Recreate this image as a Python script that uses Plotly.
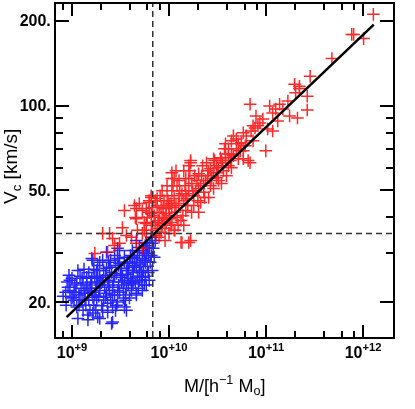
import plotly.graph_objects as go

# halo mass in units of 1e9 h^-1 Msun, circular velocity in km/s
blue_m = [
    1.15, 1.00, 0.89, 0.95, 0.86, 1.02, 1.21, 1.12, 1.30, 1.46, 1.15, 1.46, 1.84, 2.62, 2.56,
    1.80, 1.64, 1.84, 2.27, 2.75, 3.47, 3.09, 4.19, 4.94, 5.31, 5.97, 5.83, 6.56, 4.19, 4.61,
    3.91, 3.47, 2.95, 5.31, 5.83, 1.93, 2.44, 2.88, 1.42, 1.30, 1.53, 1.93, 2.27, 2.62, 3.31,
    3.64, 4.19, 4.94, 4.61, 3.73, 3.09, 2.44, 2.07, 1.80, 1.64, 1.36, 2.33, 2.62, 2.07, 4.61,
    4.94, 4.19, 5.83, 4.61, 5.31, 4.25, 5.56, 4.61, 7.03, 6.25,
    0.91, 0.95, 1.07, 1.10, 1.18, 1.24, 1.27, 1.33, 1.39, 1.49, 1.56, 1.60, 1.68, 1.72, 1.76,
    1.89, 1.98, 2.02, 2.12, 2.17, 2.22, 2.33, 2.38, 2.44, 2.50, 2.56, 2.68, 2.75, 2.81, 2.88,
    3.02, 3.09, 3.16, 3.24, 3.39, 3.47, 3.56, 3.73, 3.82, 3.91, 4.00, 4.10, 4.29, 4.40, 4.50,
    4.72, 4.83, 5.06, 5.18, 5.43, 5.56, 5.69, 5.97, 6.11, 6.40, 6.71, 6.87, 6.25, 2.95, 2.22,
    1.84, 1.46, 1.05, 1.18, 1.76, 1.93, 1.53, 1.33, 1.68, 3.56, 2.81, 0.98, 0.81, 0.87,
    7.20, 6.71, 5.69,
    1.12, 1.21, 1.36, 1.42, 1.49, 1.60, 1.72, 1.80, 1.93, 2.07, 2.12, 2.27, 2.38, 2.50, 2.62,
    2.75, 2.95, 3.02, 3.24, 3.39, 3.47, 3.64, 3.82, 4.00, 4.10, 4.40, 4.72, 4.94, 5.18, 5.43,
    5.69, 6.11, 6.56, 3.64, 2.33, 1.64, 1.27, 1.05, 0.93, 1.60, 1.93, 2.95,
]
blue_v = [
    25.9, 24.3, 23.6, 22.0, 21.7, 20.8, 20.3, 19.2, 18.7, 18.0, 17.5, 17.3, 17.7, 17.0, 16.8,
    20.3, 28.2, 27.0, 30.1, 29.3, 28.9, 30.5, 30.5, 30.1, 28.6, 31.3, 32.6, 34.0, 23.6, 21.2,
    20.7, 19.2, 20.0, 22.0, 23.0, 24.5, 24.5, 25.3, 24.5, 23.4, 22.4, 22.0, 21.5, 22.6, 24.5,
    25.9, 26.6, 25.9, 27.7, 27.7, 27.5, 26.6, 28.2, 23.4, 20.8, 20.3, 19.8, 19.2, 18.7, 33.1,
    31.3, 28.9, 29.8, 26.6, 24.5, 23.2, 23.0, 21.5, 28.9, 31.3,
    22.6, 23.9, 23.0, 21.7, 21.2, 22.4, 24.3, 21.5, 19.5, 20.3, 23.6, 21.7, 19.5, 24.7, 22.4,
    21.0, 23.6, 19.4, 25.9, 22.6, 20.8, 23.9, 27.7, 22.0, 20.3, 25.5, 23.6, 21.2, 27.0, 19.5,
    23.0, 21.7, 24.9, 26.4, 22.4, 23.9, 21.2, 25.1, 23.0, 27.5, 24.3, 22.0, 25.5, 28.6, 23.6,
    24.7, 22.4, 27.3, 23.9, 25.9, 28.2, 24.7, 26.8, 29.3, 27.7, 25.9, 31.1, 23.9, 28.6, 24.9,
    24.3, 22.0, 20.3, 19.5, 18.7, 17.5, 18.7, 26.2, 26.2, 20.3, 18.7, 20.7, 21.0, 19.5,
    33.1, 32.4, 31.8,
    23.4, 24.7, 22.0, 23.0, 25.5, 24.3, 21.2, 25.9, 23.0, 23.9, 20.3, 26.4, 23.0, 28.2, 21.2,
    24.9, 22.0, 27.0, 23.6, 20.7, 27.7, 22.4, 25.9, 29.3, 23.4, 27.0, 29.3, 23.9, 25.5, 30.5,
    27.7, 25.5, 29.3, 18.7, 18.4, 18.3, 20.3, 21.7, 24.9, 28.6, 27.7, 31.1,
]

red_m = [
    1.72, 2.07, 2.44, 2.62, 3.31, 3.64, 2.75, 3.09, 4.72, 5.83, 4.61, 5.31, 6.56, 5.97, 4.61,
    5.31, 3.47, 4.94, 13.3, 16.0, 8.29, 9.32, 10.5, 2.33, 4.40, 4.50, 6.56, 6.71, 5.31, 4.10,
    6.25, 5.83, 10.7, 11.3, 16.0, 16.7, 14.9, 20.2, 26.8, 28.8, 33.9, 38.2, 34.7, 28.8, 25.6,
    21.2, 20.2, 17.1, 18.0, 14.9, 13.6, 16.0, 18.9, 12.6, 10.7, 9.32, 10.0, 8.49, 7.91, 9.32,
    10.7, 12.1, 7.55, 6.71, 7.37, 7.91, 10.0, 11.3, 13.6, 16.7, 5.83, 5.56, 24.4, 32.4, 42.9,
    41.0, 44.0, 30.9, 22.8, 285, 197, 221, 202, 266, 68.5, 109, 138, 117, 126, 175,
    211, 266, 132, 86.5, 82.5, 77.0, 117, 70.1, 58.3, 46.1, 44.0, 55.6, 51.8, 61.1, 38.2,
    41.0, 49.5, 58.3, 99.5, 38.2, 34.7, 51.8, 65.4, 44.0, 1278, 765, 801, 1013, 478, 221,
    16.7, 11.8, 10.7, 68.5, 58.3, 41.0, 6.25, 6.56, 4.61, 5.56,
    7.03, 7.55, 7.91, 8.49, 8.89, 8.89, 9.55, 10.0, 10.5, 11.3, 11.5, 12.1, 12.7, 13.3, 14.2,
    14.6, 15.3, 16.0, 17.2, 18.0, 19.4, 20.2, 21.7, 22.8, 23.9, 25.6, 27.5, 28.8, 30.9, 32.4,
    36.4, 39.1, 8.29, 9.11, 7.20, 11.5, 14.2, 6.25, 7.55, 8.49, 9.55, 10.7, 12.7, 14.2,
    6.56, 7.20, 7.72, 8.10, 8.69, 9.10, 9.77, 10.2, 11.0, 11.8, 12.4, 12.9, 13.9, 14.9, 15.6,
    16.4, 17.6, 18.4, 19.8, 21.2, 22.2, 23.3, 25.0, 26.8, 29.5, 31.6, 35.6, 37.3, 46.0, 49.5,
    54.3, 62.5, 73.5, 78.8, 92.8, 104, 149, 168, 73.5,
]
red_v = [
    29.8, 35.1, 35.1, 33.7, 36.8, 34.5, 31.8, 32.4, 36.0, 35.1, 32.4, 31.1, 37.5, 40.0, 39.6,
    42.3, 42.3, 44.8, 32.6, 32.6, 43.4, 41.3, 44.8, 30.1, 44.1, 40.0, 47.1, 43.4, 35.1, 34.0,
    45.2, 43.0, 57.7, 55.0, 61.1, 62.6, 55.0, 57.2, 59.6, 64.7, 65.2, 67.3, 52.8, 50.7, 47.1,
    45.2, 41.7, 41.7, 44.1, 42.3, 48.6, 49.8, 49.8, 44.8, 43.4, 43.0, 40.6, 40.0, 38.4, 38.1,
    38.4, 40.0, 36.6, 36.0, 34.5, 34.0, 35.1, 36.0, 32.6, 33.1, 38.1, 36.0, 62.6, 60.1, 63.7,
    61.1, 67.3, 55.4, 52.8, 127, 119, 117, 111, 108, 101, 99.6, 101, 94.1, 97.2, 91.8,
    90.3, 96.4, 88.1, 86.7, 84.7, 83.2, 81.2, 81.2, 80.0, 78.0, 74.9, 73.7, 73.1, 71.9, 73.1,
    70.2, 70.2, 69.0, 69.0, 65.2, 63.7, 64.7, 63.7, 60.1, 211, 179, 179, 173, 147, 115,
    63.7, 58.6, 55.0, 62.6, 64.7, 67.3, 45.9, 47.8, 43.0, 38.4,
    40.6, 44.1, 41.7, 37.5, 45.9, 39.6, 47.8, 44.1, 37.5, 46.7, 41.7, 51.9, 47.8, 39.0, 45.9,
    51.9, 46.7, 55.0, 52.8, 47.8, 54.1, 50.7, 56.3, 49.2, 54.1, 58.6, 55.0, 57.7, 61.1, 54.1,
    58.6, 56.3, 35.4, 33.1, 38.4, 36.0, 37.5, 41.7, 46.7, 49.8, 51.9, 49.8, 54.1, 58.6,
    41.3, 45.9, 39.0, 47.8, 43.0, 36.6, 45.9, 39.6, 51.9, 44.1, 37.5, 49.8, 40.6, 48.6, 44.1,
    58.6, 49.8, 56.3, 45.9, 51.9, 61.1, 47.1, 56.3, 51.9, 63.7, 57.7, 62.6, 70.2, 66.3, 76.1,
    69.0, 78.0, 74.9, 91.8, 89.6, 82.6, 97.2, 103.8, 84.7,
]

# power-law fit end points
fit_m = [0.88, 1290]
fit_v = [17.7, 194]

m_cut = 6.8
v_cut = 35.1

unit = 1e9

x_ticks = [1e9, 1e10, 1e11, 1e12]
x_labels = ["10<sup>+9</sup>", "10<sup>+10</sup>", "10<sup>+11</sup>", "10<sup>+12</sup>"]
x_minor = [8e8, 2e9, 4e9, 6e9, 8e9, 2e10, 4e10, 6e10, 8e10, 2e11, 4e11, 6e11, 8e11, 2e12]
y_ticks = [20, 50, 100, 200]
y_labels = ["20.", "50.", "100.", "200."]
y_minor = [30, 40, 60, 70, 80, 90]


def crosses(m, v, color):
    return go.Scatter(
        x=[a * unit for a in m],
        y=v,
        mode="markers",
        marker=dict(symbol="cross-thin", size=9, line=dict(width=1.5, color=color)),
        opacity=0.85,
        hoverinfo="skip",
    )


fig = go.Figure()
fig.add_trace(crosses(blue_m, blue_v, "#0000ff"))
fig.add_trace(crosses(red_m, red_v, "#ff0000"))
fig.add_trace(
    go.Scatter(
        x=[a * unit for a in fit_m],
        y=fit_v,
        mode="lines",
        line=dict(color="black", width=2.5),
        hoverinfo="skip",
    )
)

dash_line = dict(color="#333333", width=1.5, dash="6px,4px")
fig.add_vline(x=m_cut * unit, line=dash_line)
fig.add_hline(y=v_cut, line=dash_line)

axis_common = dict(
    type="log",
    showgrid=False,
    zeroline=False,
    showline=True,
    linewidth=2,
    linecolor="black",
    mirror="allticks",
    ticks="inside",
    tickwidth=1.5,
    tickcolor="black",
    tickfont=dict(family="Liberation Sans", size=16, color="black", weight="bold"),
)

fig.update_xaxes(
    **axis_common,
    range=[8.835, 12.309],
    tickvals=x_ticks,
    ticktext=x_labels,
    ticklen=12,
    minor=dict(tickvals=x_minor, ticks="inside", ticklen=6, tickwidth=1.5, tickcolor="black"),
)
fig.update_yaxes(
    **axis_common,
    range=[1.177, 2.361],
    tickvals=y_ticks,
    ticktext=y_labels,
    ticklen=13,
    minor=dict(tickvals=y_minor, ticks="inside", ticklen=7, tickwidth=1.5, tickcolor="black"),
)

fig.update_layout(
    width=415,
    height=409,
    margin=dict(l=56, r=22, t=2, b=72),
    plot_bgcolor="white",
    paper_bgcolor="white",
    showlegend=False,
    annotations=[
        dict(
            text="M/[h<sup>\u22121</sup> M<sub>o</sub>]",
            xref="paper", yref="paper", x=0.5, y=-0.146,
            xanchor="center", yanchor="middle", showarrow=False,
            font=dict(family="Liberation Sans", size=18, color="black"),
        ),
        dict(
            text="V<sub>c</sub> [km/s]",
            xref="paper", yref="paper", x=-0.131, y=0.513,
            xanchor="center", yanchor="middle", showarrow=False, textangle=-90,
            font=dict(family="Liberation Sans", size=19, color="black"),
        ),
    ],
)

fig.write_html(
    "out.html",
    config={"displayModeBar": False},
    post_script="document.body.style.margin = '0px';",
)
